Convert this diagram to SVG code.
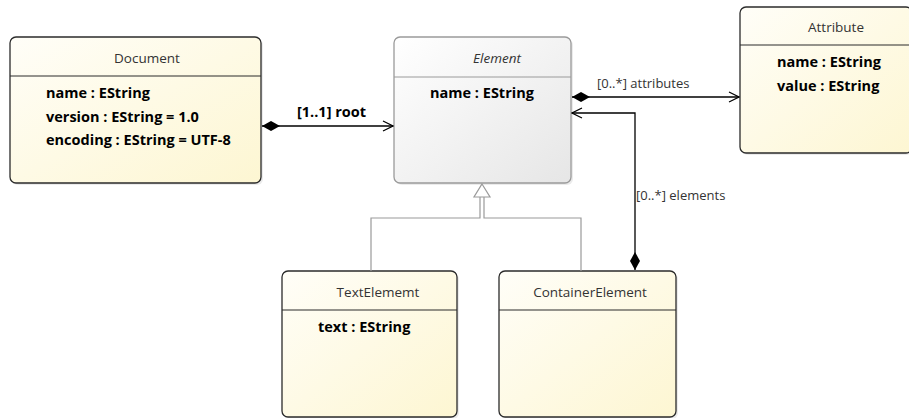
<svg xmlns="http://www.w3.org/2000/svg" width="909" height="418" viewBox="0 0 909 418">
  <defs>
    <linearGradient id="gYellow" x1="0" y1="0" x2="1" y2="1">
      <stop offset="0" stop-color="#fffef8"/>
      <stop offset="1" stop-color="#fdf6d2"/>
    </linearGradient>
    <linearGradient id="gGray" x1="0" y1="0" x2="1" y2="1">
      <stop offset="0" stop-color="#ffffff"/>
      <stop offset="1" stop-color="#e6e6e6"/>
    </linearGradient>
    <marker id="open" viewBox="0 0 12 12" refX="11" refY="6" markerWidth="12" markerHeight="12" markerUnits="userSpaceOnUse" orient="auto">
      <path d="M1,1 L11,6 L1,11" fill="none" stroke="#000" stroke-width="1.2"/>
    </marker>
    <marker id="diamond" viewBox="0 0 20 10" refX="0" refY="5" markerWidth="20" markerHeight="10" markerUnits="userSpaceOnUse" orient="auto">
      <path d="M0,5 L9,0 L18,5 L9,10 Z" fill="#000"/>
    </marker>
  </defs>
  <style>
    .box { fill: url(#gYellow); stroke: #2b2b2b; stroke-width: 1.3; }
    .abox { fill: url(#gGray); stroke: #9a9a9a; stroke-width: 1.3; }
    .shadow { fill: #000; opacity: 0.08; }
    .sep { stroke: #2b2b2b; stroke-width: 1; }
    .asep { stroke: #9a9a9a; stroke-width: 1; }
    .title { font-family: "Open Sans", "Noto Sans", sans-serif; font-size: 13.5px; fill: #333; text-anchor: middle; }
    .attr { font-family: "Open Sans", "Noto Sans", sans-serif; font-size: 14.5px; font-weight: bold; fill: #000; }
    .lbl { font-family: "Open Sans", "Noto Sans", sans-serif; font-size: 13px; fill: #333; }
    .root { font-family: "Open Sans", "Noto Sans", sans-serif; font-size: 14.5px; font-weight: bold; fill: #000; }
    .edge { fill: none; stroke: #000; stroke-width: 1.3; }
    .gen { fill: none; stroke: #9a9a9a; stroke-width: 1.2; }
  </style>

  <!-- classes -->
  <g id="Document">
    <rect class="shadow" x="12" y="39" width="251" height="146" rx="6"/>
    <rect class="box" x="10" y="37" width="251" height="146" rx="6"/>
    <line class="sep" x1="10" y1="76" x2="261" y2="76"/>
    <text class="title" x="147" y="63">Document</text>
    <text class="attr" x="46" y="98">name : EString</text>
    <text class="attr" x="46" y="122">version : EString = 1.0</text>
    <text class="attr" x="46" y="145">encoding : EString = UTF-8</text>
  </g>

  <g id="Element">
    <rect class="shadow" x="396" y="39" width="177" height="146" rx="6"/>
    <rect class="abox" x="394" y="37" width="177" height="146" rx="6"/>
    <line class="asep" x1="394" y1="77" x2="571" y2="77"/>
    <text class="title" x="497" y="63" font-style="italic">Element</text>
    <text class="attr" x="430" y="98">name : EString</text>
  </g>

  <g id="Attribute">
    <rect class="shadow" x="742" y="9" width="170" height="146" rx="6"/>
    <rect class="box" x="740" y="7" width="172" height="146" rx="6"/>
    <line class="sep" x1="740" y1="45" x2="909" y2="45"/>
    <text class="title" x="836" y="32">Attribute</text>
    <text class="attr" x="777" y="67">name : EString</text>
    <text class="attr" x="777" y="91">value : EString</text>
  </g>

  <g id="TextElememt">
    <rect class="shadow" x="284" y="273" width="175" height="146" rx="6"/>
    <rect class="box" x="282" y="271" width="175" height="146" rx="6"/>
    <line class="sep" x1="282" y1="310" x2="457" y2="310"/>
    <text class="title" x="378" y="297">TextElememt</text>
    <text class="attr" x="318" y="332">text : EString</text>
  </g>

  <g id="ContainerElement">
    <rect class="shadow" x="501" y="273" width="177" height="146" rx="6"/>
    <rect class="box" x="499" y="271" width="177" height="146" rx="6"/>
    <line class="sep" x1="499" y1="310" x2="676" y2="310"/>
    <text class="title" x="590" y="297">ContainerElement</text>
  </g>

  <!-- connectors -->
  <g id="connectors">
    <!-- Document.root -->
    <path class="edge" d="M262,126 L393,126" marker-start="url(#diamond)" marker-end="url(#open)"/>
    <text class="root" x="297" y="117">[1..1] root</text>

    <!-- Element.attributes -->
    <path class="edge" d="M572,97 L739,97" marker-start="url(#diamond)" marker-end="url(#open)"/>
    <text class="lbl" x="597" y="88">[0..*] attributes</text>

    <!-- ContainerElement.elements -->
    <path class="edge" d="M635,270 L635,113 L572,113" marker-start="url(#diamond)" marker-end="url(#open)"/>
    <text class="lbl" x="636" y="200">[0..*] elements</text>

    <!-- generalization to Element -->
    <path class="gen" d="M371,271 L371,218 L480,218 L480,197"/>
    <path class="gen" d="M581,271 L581,218 L484,218 L484,197"/>
    <path d="M482,184 L490,197 L474,197 Z" fill="#fff" stroke="#9a9a9a" stroke-width="1.2"/>
  </g>
</svg>
